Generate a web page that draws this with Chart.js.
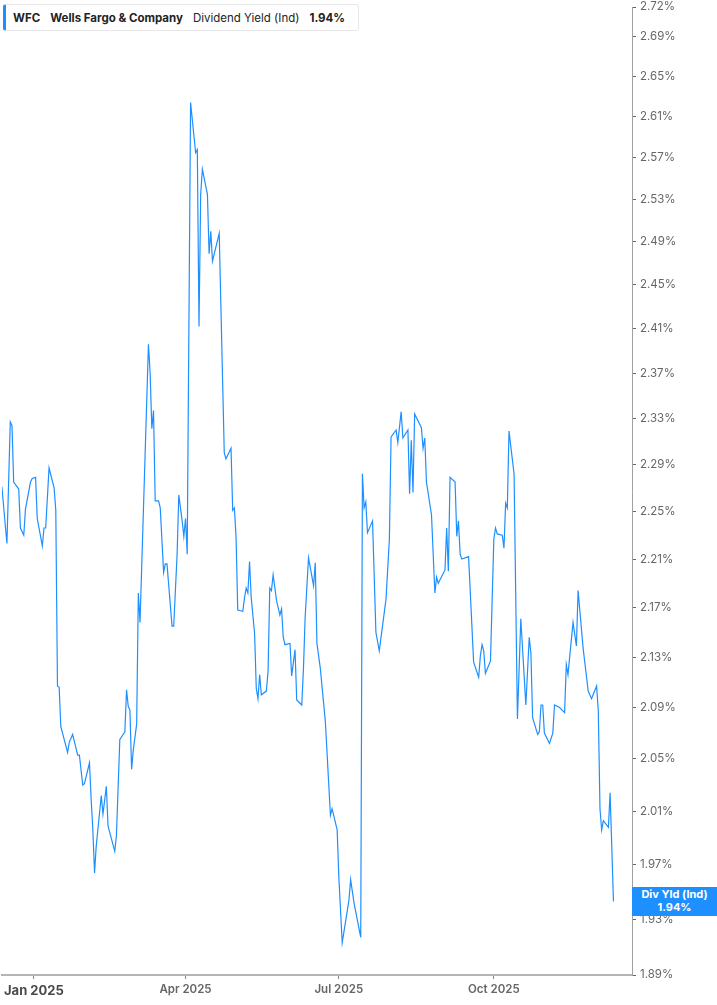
<!DOCTYPE html>
<html>
<head>
<meta charset="utf-8">
<title>WFC Dividend Yield (Ind)</title>
<script src="https://cdn.jsdelivr.net/npm/chart.js@4.4.1/dist/chart.umd.min.js"></script>
<style>
    html, body { margin: 0; padding: 0; background: #ffffff; }
    #wrap { position: relative; width: 717px; height: 1005px; overflow: hidden; }
    #legend {
        position: absolute; left: 3px; top: 4px; width: 356px; height: 27px;
        box-sizing: border-box; background: #fff;
        border: 1px solid #e8e8e8; border-left: 3px solid #1e8fff; border-radius: 3px;
        font-family: Inter, "Noto Sans", sans-serif; font-size: 11.5px; color: #222;
        display: flex; align-items: center; padding-left: 7px; white-space: nowrap;
    }
    #legend span { margin-right: 10px; }
    #legend .b { font-weight: 700; }
    #tag {
        position: absolute; left: 632px; width: 85px; height: 29px;
        background: #1e8fff; color: #fff; text-align: center;
        font-family: Inter, "Noto Sans", sans-serif; font-size: 11px; font-weight: 700;
        line-height: 13px; padding-top: 1px; box-sizing: border-box;
    }
</style>
</head>
<body>
<div id="wrap">
    <canvas id="yieldChart" width="717" height="1005"></canvas>
    <div id="legend">
        <span class="b">WFC</span>
        <span class="b">Wells Fargo &amp; Company</span>
        <span>Dividend Yield (Ind)</span>
        <span class="b">1.94%</span>
    </div>
    <div id="tag">Div Yld (Ind)<br>1.94%</div>
</div>
<script>
// Days counted from 1 Jan 2025 (negative = Dec 2024)
const days = [
    -19, -16, -14, -13, -12, -9, -8, -6, -5, -2, -1, 1, 2, 5, 6, 7, 9, 12, 13, 14,
    15, 16, 20, 21, 23, 26, 27, 29, 30, 33, 34, 35, 36, 37, 40, 41, 43, 44, 48, 49,
    51, 52, 54, 55, 56, 57, 58, 59, 61, 62, 63, 68, 69, 70, 71, 72, 74, 75, 77, 78,
    79, 82, 83, 85, 86, 88, 89, 90, 91, 93, 96, 97, 98, 99, 100, 103, 104, 105, 106, 110,
    113, 114, 117, 118, 119, 120, 121, 124, 125, 126, 127, 128, 129, 131, 132, 133, 134, 135, 138, 139,
    140, 141, 142, 144, 146, 147, 148, 149, 152, 153, 155, 156, 159, 160, 161, 163, 166, 167, 168, 170,
    173, 176, 177, 180, 181, 183, 187, 188, 190, 194, 195, 196, 197, 198, 201, 203, 205, 209, 211, 212,
    215, 216, 218, 219, 222, 223, 224, 225, 226, 230, 231, 232, 233, 236, 238, 239, 240, 244, 245, 246,
    247, 250, 251, 252, 253, 254, 258, 261, 264, 265, 266, 267, 268, 271, 273, 274, 275, 278, 279, 280,
    281, 282, 285, 287, 289, 292, 294, 295, 296, 299, 300, 301, 302, 303, 306, 308, 309, 312, 315, 316,
    317, 320, 322, 323, 326, 329, 331, 334, 335, 336, 337, 338, 341, 342, 344
];

// Dividend yield (indicated), percent
const yields = [
    2.271, 2.223, 2.327, 2.324, 2.275, 2.269, 2.236, 2.230, 2.252, 2.275, 2.278, 2.279, 2.244, 2.221, 2.236, 2.236, 2.287, 2.270, 2.251, 2.107,
    2.106, 2.075, 2.055, 2.063, 2.069, 2.053, 2.053, 2.030, 2.031, 2.047, 2.019, 1.996, 1.964, 1.984, 2.022, 2.008, 2.029, 1.999, 1.980, 1.992,
    2.065, 2.067, 2.071, 2.104, 2.091, 2.088, 2.042, 2.057, 2.077, 2.182, 2.158, 2.396, 2.370, 2.321, 2.337, 2.259, 2.259, 2.253, 2.199, 2.206,
    2.206, 2.155, 2.155, 2.214, 2.264, 2.242, 2.229, 2.244, 2.214, 2.624, 2.575, 2.578, 2.412, 2.535, 2.559, 2.535, 2.479, 2.500, 2.472, 2.498,
    2.300, 2.295, 2.304, 2.251, 2.253, 2.228, 2.168, 2.167, 2.178, 2.186, 2.182, 2.208, 2.178, 2.149, 2.105, 2.097, 2.116, 2.100, 2.103, 2.119,
    2.186, 2.184, 2.197, 2.176, 2.164, 2.169, 2.146, 2.140, 2.141, 2.115, 2.136, 2.096, 2.092, 2.121, 2.162, 2.211, 2.188, 2.207, 2.141, 2.121,
    2.079, 2.007, 2.012, 1.996, 1.961, 1.913, 1.944, 1.959, 1.942, 1.917, 2.282, 2.253, 2.258, 2.232, 2.242, 2.150, 2.135, 2.177, 2.227, 2.314,
    2.320, 2.309, 2.336, 2.313, 2.320, 2.265, 2.311, 2.266, 2.334, 2.322, 2.304, 2.313, 2.275, 2.247, 2.182, 2.195, 2.190, 2.201, 2.236, 2.200,
    2.279, 2.275, 2.229, 2.242, 2.214, 2.210, 2.212, 2.126, 2.114, 2.131, 2.140, 2.135, 2.117, 2.127, 2.227, 2.236, 2.231, 2.230, 2.219, 2.257,
    2.253, 2.319, 2.282, 2.081, 2.161, 2.092, 2.146, 2.133, 2.082, 2.069, 2.071, 2.092, 2.092, 2.070, 2.062, 2.070, 2.092, 2.090, 2.086, 2.124,
    2.116, 2.158, 2.139, 2.184, 2.137, 2.103, 2.097, 2.107, 2.087, 2.012, 1.996, 2.003, 1.998, 2.024, 1.943
];

// Axis ticks
const yTicks = [1.89, 1.93, 1.97, 2.01, 2.05, 2.09, 2.13, 2.17, 2.21, 2.25, 2.29, 2.33,
                2.37, 2.41, 2.45, 2.49, 2.53, 2.57, 2.61, 2.65, 2.69, 2.72];
const xTickDays = [0, 90, 181, 273];
const xTickLabels = ['Jan 2025', 'Apr 2025', 'Jul 2025', 'Oct 2025'];

const LINE_COLOR = '#1e8fff';
const FONT = 'Inter, "Noto Sans", sans-serif';

// keeps the blue value tag on the right axis lined up with the last value
const tagPlugin = {
    id: 'valueTag',
    afterDraw(chart) {
        const y = chart.scales.y.getPixelForValue(yields[yields.length - 1]);
        document.getElementById('tag').style.top = (y - 14.5) + 'px';
    }
};

const ctx = document.getElementById('yieldChart').getContext('2d');
new Chart(ctx, {
    type: 'line',
    data: {
        datasets: [{
            label: 'Dividend Yield (Ind)',
            data: days.map((d, i) => ({ x: d, y: yields[i] })),
            borderColor: LINE_COLOR,
            borderWidth: 1.2,
            pointRadius: 0,
            tension: 0,
            fill: false
        }]
    },
    options: {
        responsive: false,
        animation: false,
        devicePixelRatio: 1,
        layout: { padding: { top: 0, left: 0, right: 0, bottom: 0 } },
        plugins: {
            legend: { display: false },
            tooltip: { enabled: false }
        },
        scales: {
            x: {
                type: 'linear',
                min: -19,
                max: 355,
                afterBuildTicks: (scale) => {
                    scale.ticks = xTickDays.map(v => ({ value: v }));
                },
                afterFit: (scale) => { scale.height = 30; },
                grid: {
                    drawOnChartArea: false,
                    drawTicks: true,
                    tickLength: 4,
                    tickColor: '#888'
                },
                border: { display: true, color: '#b5b5b5', width: 2 },
                ticks: {
                    maxRotation: 0,
                    padding: 4,
                    color: (c) => c.index === 0 ? '#4a4a4a' : '#666',
                    font: (c) => c.index === 0
                        ? { family: FONT, size: 13, weight: 'bold' }
                        : { family: FONT, size: 11.5, weight: '600' },
                    callback: (value) => {
                        const i = xTickDays.indexOf(value);
                        return i >= 0 ? xTickLabels[i] : '';
                    }
                }
            },
            y: {
                type: 'logarithmic',
                position: 'right',
                min: 1.89,
                max: 2.72,
                afterBuildTicks: (scale) => {
                    scale.ticks = yTicks.map(v => ({ value: v }));
                },
                afterFit: (scale) => {
                    scale.width = 85;
                    scale.paddingTop = 7;
                },
                grid: {
                    drawOnChartArea: false,
                    drawTicks: true,
                    tickLength: 4,
                    tickColor: '#666'
                },
                border: { display: true, color: '#a0a0a0', width: 1 },
                ticks: {
                    padding: 4,
                    color: '#666',
                    font: { family: FONT, size: 11.5 },
                    callback: (value) => Number(value).toFixed(2) + '%'
                }
            }
        }
    },
    plugins: [tagPlugin]
});
</script>
</body>
</html>
